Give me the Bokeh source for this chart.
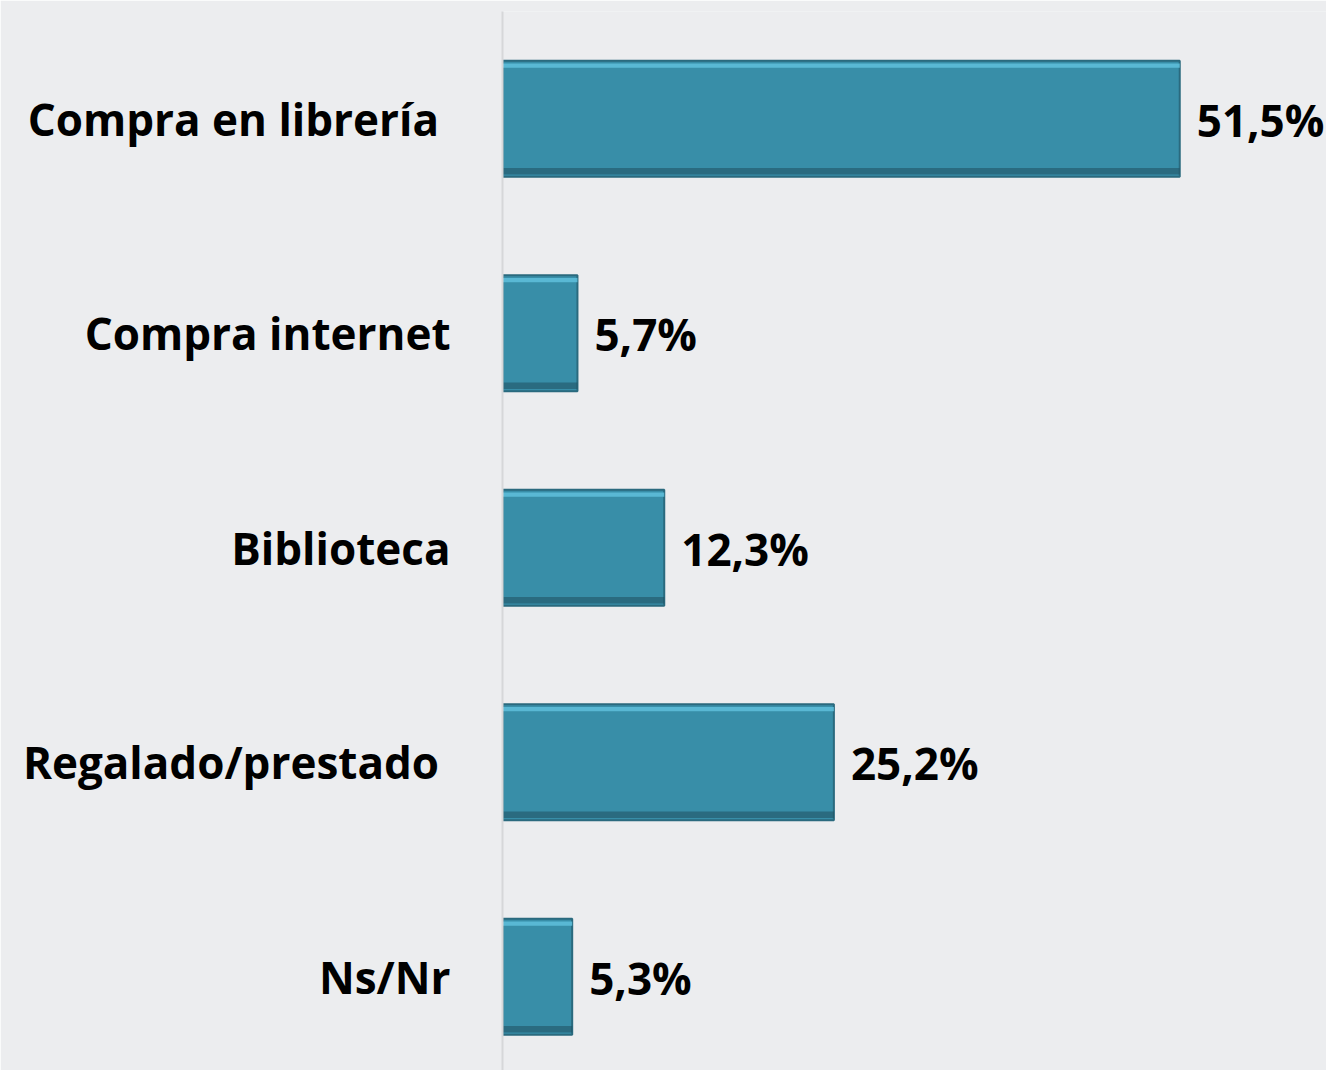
from bokeh.plotting import figure
from bokeh.models import Range1d, FixedTicker, ColumnDataSource
from bokeh.embed import file_html
from bokeh.resources import INLINE
from bokeh.core.properties import value
from bokeh.transform import dodge

categories = ["Compra en librería\u00a0", "Compra internet", "Biblioteca", "Regalado/prestado\u00a0", "Ns/Nr"]
values = [51.5, 5.7, 12.3, 25.2, 5.3]
value_labels = ["51,5%", "5,7%", "12,3%", "25,2%", "5,3%"]

positions = list(range(len(categories)))
BG = "#ECEDEF"
FONT = "Open Sans"

src = ColumnDataSource(dict(y=positions, v=values, lab=value_labels, zero=[0] * len(values)))

p = figure(width=1326, height=1070, output_backend="svg", toolbar_location=None,
           x_range=Range1d(0, 62.66), y_range=Range1d(4.437, -0.5),
           min_border_left=502, min_border_right=0, min_border_top=11, min_border_bottom=0)
p.background_fill_color = BG
p.border_fill_color = BG
p.outline_line_color = None
p.grid.visible = False
p.xaxis.visible = False

h = 0.54
# main bars
p.hbar(y="y", left="zero", right="v", height=h, source=src,
       fill_color="#388EA8", line_color="#2A6A7E", line_width=2)
# bevel: light band near the top, dark band near the bottom
p.hbar(y=dodge("y", -h / 2 + 0.022, range=p.y_range), left="zero", right="v", height=0.02,
       source=src, fill_color="#5FC0DC", line_color=None, fill_alpha=0.85)
p.hbar(y=dodge("y", h / 2 - 0.025, range=p.y_range), left="zero", right="v", height=0.03,
       source=src, fill_color="#1F4E5E", line_color=None, fill_alpha=0.55)

p.text(x="v", y="y", text="lab", source=src, x_offset=17, y_offset=1, text_baseline="middle",
       text_align="left", text_font=value(FONT), text_font_style="bold",
       text_font_size="44px", text_color="#000000")

ax = p.yaxis[0]
ax.ticker = FixedTicker(ticks=positions)
ax.major_label_overrides = {i: c for i, c in zip(positions, categories)}
ax.major_tick_line_color = None
ax.minor_tick_line_color = None
ax.axis_line_color = "#D6D7D9"
ax.axis_line_width = 2
ax.major_label_standoff = 46
ax.major_label_text_font = FONT
ax.major_label_text_font_style = "bold"
ax.major_label_text_font_size = "44px"
ax.major_label_text_color = "#000000"

html = file_html(p, INLINE)
html = html.replace("<body>", '<body style="background:%s">' % BG, 1)
open("out.html", "w").write(html)
